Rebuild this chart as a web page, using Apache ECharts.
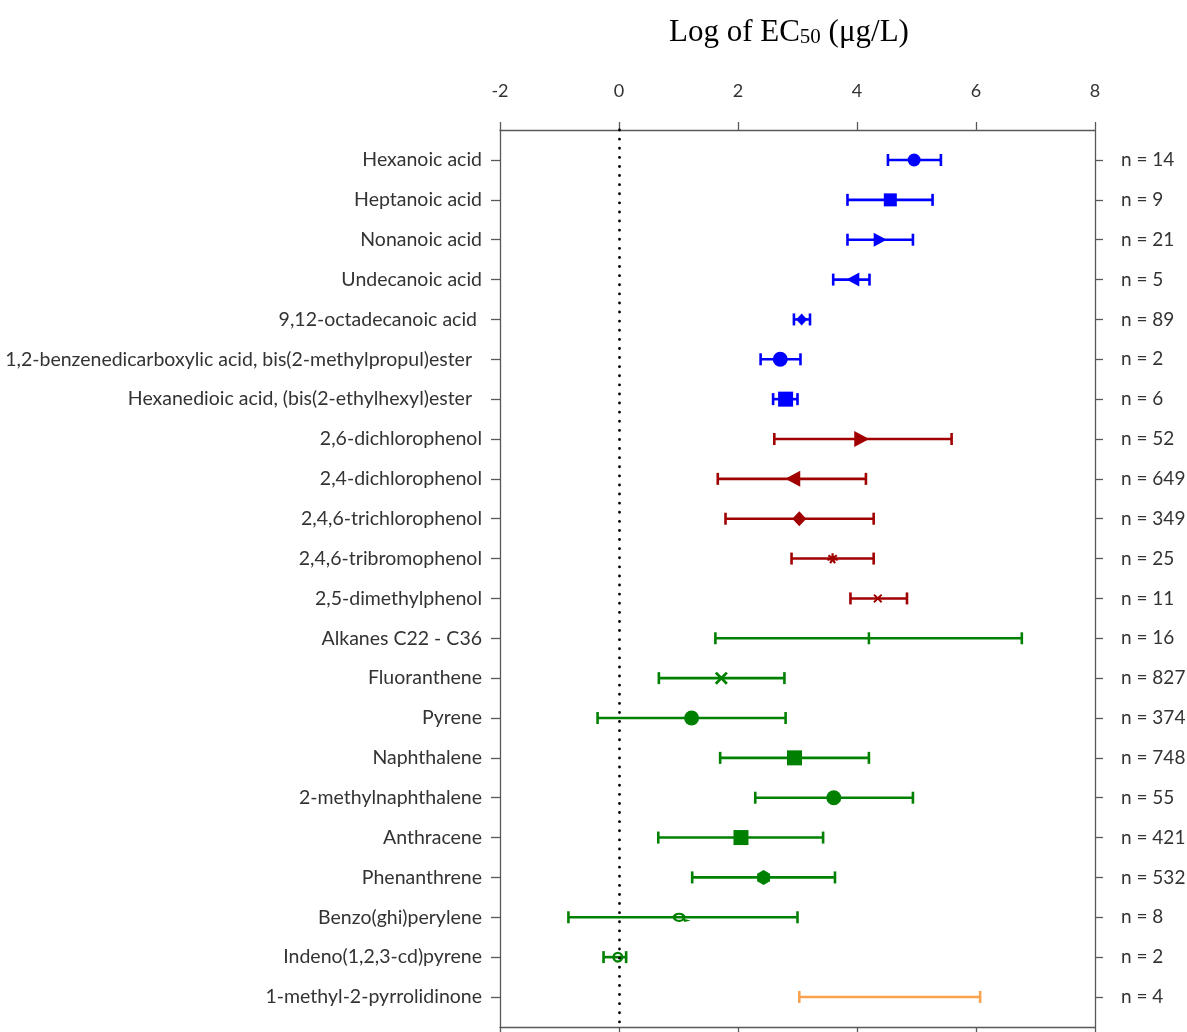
<!DOCTYPE html>
<html>
<head>
<meta charset="utf-8">
<script src="https://cdn.jsdelivr.net/npm/echarts@6/dist/echarts.min.js"></script>
<style>
html,body{margin:0;padding:0;background:#fff;}
#chart{width:1187px;height:1032px;}
</style>
</head>
<body>
<div id="chart"></div>
<script>
// ---- data ----
const categories = [
  'Hexanoic acid',
  'Heptanoic acid',
  'Nonanoic acid',
  'Undecanoic acid',
  '9,12-octadecanoic acid ',
  '1,2-benzenedicarboxylic acid, bis(2-methylpropul)ester  ',
  'Hexanedioic acid, (bis(2-ethylhexyl)ester  ',
  '2,6-dichlorophenol',
  '2,4-dichlorophenol',
  '2,4,6-trichlorophenol',
  '2,4,6-tribromophenol',
  '2,5-dimethylphenol',
  'Alkanes C22 - C36',
  'Fluoranthene',
  'Pyrene',
  'Naphthalene',
  '2-methylnaphthalene',
  'Anthracene',
  'Phenanthrene',
  'Benzo(ghi)perylene',
  'Indeno(1,2,3-cd)pyrene',
  '1-methyl-2-pyrrolidinone'
];
const nLabels = ['n = 14','n = 9','n = 21','n = 5','n = 89','n = 2','n = 6','n = 52','n = 649','n = 349','n = 25','n = 11','n = 16','n = 827','n = 374','n = 748','n = 55','n = 421','n = 532','n = 8','n = 2','n = 4'];
const meanVals = [4.96, 4.56, 4.39, 3.93, 3.07, 2.71, 2.80, 4.08, 2.92, 3.03, 3.59, 4.35, 4.20, 1.72, 1.22, 2.95, 3.61, 2.05, 2.43, 1.01, -0.02, 4.50];
const lowVals  = [4.52, 3.84, 3.84, 3.60, 2.94, 2.38, 2.59, 2.61, 1.66, 1.79, 2.90, 3.89, 1.62, 0.67, -0.36, 1.70, 2.29, 0.66, 1.23, -0.85, -0.26, 3.03];
const highVals = [5.41, 5.27, 4.94, 4.21, 3.21, 3.05, 3.00, 5.59, 4.15, 4.28, 4.28, 4.84, 6.77, 2.78, 2.80, 4.20, 4.94, 3.43, 3.63, 3.00, 0.12, 6.07];
const groupOf  = [0,0,0,0,0,0,0, 1,1,1,1,1, 2,2,2,2,2,2,2,2,2, 3];
const xTicks = [-2, 0, 2, 4, 6, 8];

// ---- styles ----
const groupColors = ['#0000ff', '#a00000', '#008000', '#f9a24f'];
const ringPath = 'path://M0,5 A5,5 0 1,1 10,5 A5,5 0 1,1 0,5 Z M2.2,5 A2.8,2.8 0 1,0 7.8,5 A2.8,2.8 0 1,0 2.2,5 Z';
const ringTailPath = 'path://M0,5 A5,5 0 1,1 10,5 A5,5 0 1,1 0,5 Z M2.2,5 A2.8,2.8 0 1,0 7.8,5 A2.8,2.8 0 1,0 2.2,5 Z M8,6.5 L14,8.5 L9,10 Z';
const xPath = 'path://M0,1.5 L1.5,0 L5,3.5 L8.5,0 L10,1.5 L6.5,5 L10,8.5 L8.5,10 L5,6.5 L1.5,10 L0,8.5 L3.5,5 Z';
const starPath = 'path://M4,0 L6,0 L6,2.6 L8.2,1 L9.4,2.6 L7.2,4.2 L10,5 L9.4,6.9 L6.8,6 L8,8.6 L6.4,9.6 L5,7.4 L3.6,9.6 L2,8.6 L3.2,6 L0.6,6.9 L0,5 L2.8,4.2 L0.6,2.6 L1.8,1 L4,2.6 Z';
const hexPath = 'path://M5,0 L9.33,2.5 L9.33,7.5 L5,10 L0.67,7.5 L0.67,2.5 Z';
const markerStyles = [
  {symbol:'circle', size:13},
  {symbol:'rect', size:13},
  {symbol:'triangle', size:[14,13], rotate:-90},
  {symbol:'triangle', size:[14,13], rotate:90},
  {symbol:'diamond', size:[11,12]},
  {symbol:'circle', size:15},
  {symbol:'rect', size:15},
  {symbol:'triangle', size:[16,15], rotate:-90},
  {symbol:'triangle', size:[16,15], rotate:90},
  {symbol:'diamond', size:[14,15]},
  {symbol:starPath, size:11},
  {symbol:xPath, size:9},
  {symbol:'rect', size:[2.5,12]},
  {symbol:xPath, size:13},
  {symbol:'circle', size:15},
  {symbol:'rect', size:15},
  {symbol:'circle', size:15},
  {symbol:'rect', size:15},
  {symbol:hexPath, size:15},
  {symbol:ringTailPath, size:[18,12.9], offset:[2.6,0]},
  {symbol:ringPath, size:11},
  {symbol:'none', size:0}
];

const rows = categories.map((c, i) => i);
const errData = rows.map(i => [lowVals[i], highVals[i], i, groupOf[i]]);
const meanData = rows.map(i => {
  const s = markerStyles[i];
  return {
    value: [meanVals[i], i],
    symbol: s.symbol,
    symbolSize: s.size,
    symbolRotate: s.rotate || 0,
    symbolOffset: s.offset || [0, 0],
    symbolKeepAspect: true,
    itemStyle: {color: groupColors[groupOf[i]], opacity: 1}
  };
});

const yMin = -0.753, yMax = 21.753;
const labelFont = 'Lato, "Open Sans", sans-serif';
const axisGray = '#595959';
const serif = '"Liberation Serif", "Times New Roman", serif';

const chart = echarts.init(document.getElementById('chart'));
chart.setOption({
  animation: false,
  backgroundColor: '#fff',
  title: {
    text: '{a|Log of EC}{b|50}{a| (μg/L)}',
    left: 664,
    top: 8,
    textStyle: {
      fontWeight: 'normal',
      rich: {
        a: {fontFamily: serif, fontSize: 31, fontWeight: 'normal', color: '#000', verticalAlign: 'bottom', lineHeight: 35},
        b: {fontFamily: serif, fontSize: 21, fontWeight: 'normal', color: '#000', verticalAlign: 'bottom', lineHeight: 31}
      }
    }
  },
  grid: {left: 500, right: 92, top: 130, bottom: 5, containLabel: false, outerBoundsMode: 'none'},
  xAxis: [
    {
      type: 'value', position: 'top', min: -2, max: 8, interval: 2,
      axisLine: {show: true, onZero: false, lineStyle: {color: axisGray, width: 1.3}},
      axisTick: {show: true, length: 8, lineStyle: {color: axisGray, width: 1.3}},
      axisLabel: {show: true, margin: 30, fontFamily: labelFont, fontSize: 18, color: '#333',
        customValues: xTicks},
      splitLine: {show: false}
    },
    {
      type: 'value', position: 'bottom', min: -2, max: 8, interval: 2,
      axisLine: {show: true, onZero: false, lineStyle: {color: axisGray, width: 1.3}},
      axisTick: {show: true, length: 8, lineStyle: {color: axisGray, width: 1.3}},
      axisLabel: {show: false},
      splitLine: {show: false}
    }
  ],
  yAxis: [
    {
      type: 'value', position: 'left', inverse: true, min: yMin, max: yMax,
      axisLine: {show: true, onZero: false, lineStyle: {color: axisGray, width: 1.3}},
      axisTick: {show: true, length: 9, customValues: rows, lineStyle: {color: axisGray, width: 1.3}},
      axisLabel: {show: true, margin: 18, customValues: rows, fontFamily: labelFont, fontSize: 19.5, color: '#333',
        formatter: v => categories[Math.round(v)]},
      splitLine: {show: false}
    },
    {
      type: 'value', position: 'right', inverse: true, min: yMin, max: yMax,
      axisLine: {show: true, onZero: false, lineStyle: {color: axisGray, width: 1.3}},
      axisTick: {show: true, length: 8, customValues: rows, lineStyle: {color: axisGray, width: 1.3}},
      axisLabel: {show: true, margin: 26, customValues: rows, fontFamily: labelFont, fontSize: 19, color: '#333',
        formatter: v => nLabels[Math.round(v)]},
      splitLine: {show: false}
    }
  ],
  series: [
    {
      type: 'line', data: [], z: 1,
      markLine: {
        silent: true, symbol: 'none', label: {show: false},
        lineStyle: {color: '#000', type: [0.1, 9], width: 2.8, cap: 'round', opacity: 1},
        data: [{xAxis: 0}]
      }
    },
    {
      type: 'custom', z: 2,
      data: errData,
      encode: {x: [0, 1], y: 2},
      renderItem: function (params, api) {
        const y = api.value(2);
        const p1 = api.coord([api.value(0), y]);
        const p2 = api.coord([api.value(1), y]);
        const color = groupColors[api.value(3)];
        const h = 6;
        const st = {stroke: color, lineWidth: 2.6, fill: null};
        return {
          type: 'group',
          children: [
            {type: 'line', shape: {x1: p1[0], y1: p1[1], x2: p2[0], y2: p2[1]}, style: st},
            {type: 'line', shape: {x1: p1[0], y1: p1[1] - h, x2: p1[0], y2: p1[1] + h}, style: st},
            {type: 'line', shape: {x1: p2[0], y1: p2[1] - h, x2: p2[0], y2: p2[1] + h}, style: st}
          ]
        };
      }
    },
    {
      type: 'scatter', z: 3,
      data: meanData
    }
  ]
});
</script>
</body>
</html>
